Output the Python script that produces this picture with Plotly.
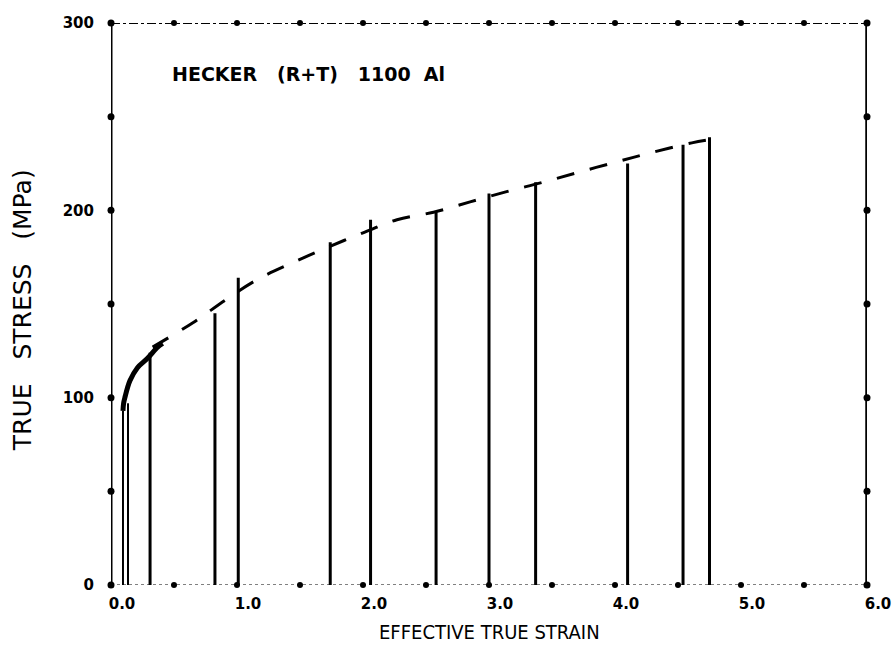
import plotly.graph_objects as go

# ---- data ----
unload_strain = [0.095, 0.135, 0.31, 0.825, 1.01, 1.74, 2.06, 2.58, 3.0, 3.37, 4.10, 4.54, 4.75]
unload_peak = [93, 97, 124, 145, 164, 183, 195, 199, 209, 215, 225, 235, 239]

load_strain = [0.095, 0.10, 0.11, 0.15, 0.21, 0.29, 0.37, 0.41]
load_stress = [93, 97, 100, 109, 116, 121, 127, 129]

env_strain = [0.33, 0.65, 0.905, 1.16, 1.44, 1.71, 2.0, 2.27, 2.56, 2.85, 3.14, 3.43, 3.72, 4.02, 4.30, 4.61, 4.83]
env_stress = [127, 140, 152, 163, 172, 180, 188, 195, 199, 204.5, 210, 215, 220.5, 226, 231, 236, 238.6]

x_tickvals = [0, 1, 2, 3, 4, 5, 6]
x_ticktext = ["0.0", "1.0", "2.0", "3.0", "4.0", "5.0", "6.0"]
y_tickvals = [0, 100, 200, 300]
y_ticktext = ["0", "100", "200", "300"]
x_minor = [0, 0.5, 1, 1.5, 2, 2.5, 3, 3.5, 4, 4.5, 5, 5.5, 6]
y_minor = [0, 50, 100, 150, 200, 250, 300]

XMAX, YMAX = 6, 300

fig = go.Figure()

# frame: left and right solid, top dash-dot, bottom dotted
fig.add_trace(go.Scatter(x=[0] * len(y_minor), y=y_minor, mode="lines+markers",
                         line=dict(color="black", width=3), marker=dict(size=7, color="black"),
                         cliponaxis=False, hoverinfo="skip"))
fig.add_trace(go.Scatter(x=[XMAX] * len(y_minor), y=y_minor, mode="lines+markers",
                         line=dict(color="black", width=3.5), marker=dict(size=7, color="black"),
                         cliponaxis=False, hoverinfo="skip"))
fig.add_trace(go.Scatter(x=x_minor, y=[YMAX] * len(x_minor), mode="lines+markers",
                         line=dict(color="black", width=2, dash="dashdot"), marker=dict(size=6, color="black"),
                         cliponaxis=False, hoverinfo="skip"))
fig.add_trace(go.Scatter(x=x_minor, y=[0] * len(x_minor), mode="lines+markers",
                         line=dict(color="black", width=1, dash="dot"), marker=dict(size=6, color="black"),
                         cliponaxis=False, hoverinfo="skip"))

# unloading lines
for i, (s, p) in enumerate(zip(unload_strain, unload_peak)):
    w = 2 if i < 2 else 3
    fig.add_trace(go.Scatter(x=[s, s], y=[0, p], mode="lines",
                             line=dict(color="black", width=w), cliponaxis=False, hoverinfo="skip"))

# initial loading curve
fig.add_trace(go.Scatter(x=load_strain, y=load_stress, mode="lines",
                         line=dict(color="black", width=5, shape="spline"), hoverinfo="skip"))

# envelope (dashed)
fig.add_trace(go.Scatter(x=env_strain, y=env_stress, mode="lines",
                         line=dict(color="black", width=3, dash="18px,16px", shape="spline"),
                         hoverinfo="skip"))

fig.update_layout(
    width=896, height=664,
    margin=dict(l=111, r=29, t=23, b=79, autoexpand=False),
    paper_bgcolor="white", plot_bgcolor="white",
    showlegend=False,
    xaxis=dict(range=[0, XMAX], showgrid=False, zeroline=False, showline=False, automargin=False,
               tickvals=x_tickvals, ticktext=x_ticktext, ticks="",
               tickfont=dict(family="DejaVu Sans", size=15, color="black", weight="bold"),
               ticklabelstandoff=8, ticklabelshift=11),
    yaxis=dict(range=[0, YMAX], showgrid=False, zeroline=False, showline=False, automargin=False,
               tickvals=y_tickvals, ticktext=y_ticktext, ticks="",
               tickfont=dict(family="DejaVu Sans", size=15, color="black", weight="bold"),
               ticklabelstandoff=16),
    annotations=[
        dict(text="EFFECTIVE TRUE STRAIN", xref="paper", yref="paper", x=0.501, y=0,
             yshift=-47, showarrow=False, xanchor="center", yanchor="middle",
             font=dict(family="Liberation Sans Narrow, DejaVu Sans Condensed, sans-serif", size=20, color="black")),
        dict(text="TRUE   STRESS   (MPa)", xref="paper", yref="paper", x=0, y=0.489,
             xshift=-89, textangle=-90, showarrow=False, xanchor="center", yanchor="middle",
             font=dict(family="DejaVu Sans", size=25, color="black")),
        dict(text="HECKER   (R+T)   1100  Al", xref="x", yref="y", x=0.47, y=273,
             showarrow=False, xanchor="left", yanchor="middle",
             font=dict(family="DejaVu Sans", size=19, color="black", weight="bold")),
    ],
)

fig.write_html("out.html")
